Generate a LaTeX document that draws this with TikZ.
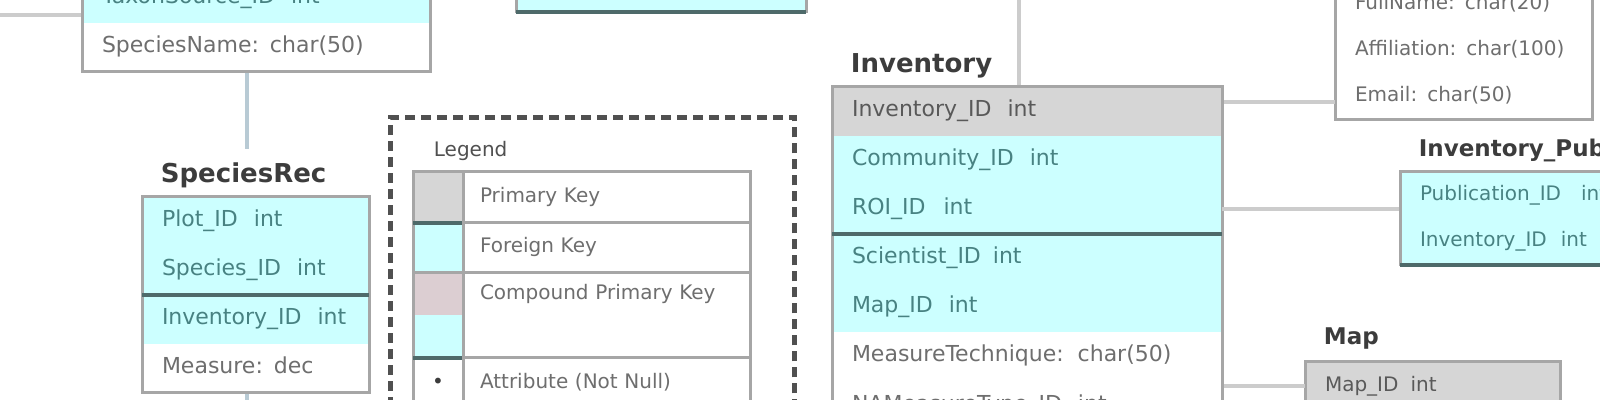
\documentclass[tikz,border=0pt]{standalone}
\usepackage{fontspec}
\setmainfont{DejaVu Sans}
\usepackage{tikz}
\usetikzlibrary{fit,positioning}
\definecolor{keycyan}{RGB}{204,255,255}
\definecolor{pkgray}{RGB}{214,214,214}
\definecolor{cpkpink}{RGB}{220,206,210}
\definecolor{rimgray}{RGB}{166,166,166}
\definecolor{pkline}{RGB}{78,106,106}
\definecolor{linkgray}{RGB}{204,204,204}
\definecolor{linkblue}{RGB}{184,202,212}
\definecolor{keytext}{RGB}{72,130,130}
\definecolor{plaintext}{RGB}{110,110,110}
\definecolor{headtext}{RGB}{60,60,60}
\definecolor{dashgray}{RGB}{80,80,80}

\begin{document}
\begin{tikzpicture}[x=0.5pt, y=-0.5pt]
    \tikzstyle{field}=[rectangle, anchor=north west, inner xsep=10pt, inner ysep=0pt, outer sep=0pt, minimum height=24.5pt, text height=8pt, text depth=2.5pt, align=left, font=\fontsize{11}{13}\selectfont, text=plaintext]
    \tikzstyle{fk}=[field, fill=keycyan, text=keytext]
    \tikzstyle{pk}=[field, fill=pkgray, text=headtext!85]
    \tikzstyle{attr}=[field, fill=white]
    \tikzstyle{small}=[font=\fontsize{10}{12}\selectfont, text height=7.5pt]
    \tikzstyle{short}=[minimum height=23pt]
    \tikzstyle{tablebox}=[rectangle, draw=rimgray, line width=1.5pt, inner sep=0pt]
    \tikzstyle{keysep}=[draw=pkline, line width=2pt]
    \tikzstyle{rowline}=[draw=rimgray, line width=1.5pt]
    \tikzstyle{tabletitle}=[inner xsep=10pt, inner ysep=0pt, text height=9.5pt, text depth=3pt, font=\bfseries\fontsize{13}{15}\selectfont, text=headtext]
    \tikzstyle{smalltitle}=[tabletitle, text height=8.5pt, text depth=2.5pt, font=\bfseries\fontsize{11.5}{13}\selectfont]
    \tikzstyle{link}=[draw=linkgray, line width=2pt]
    \tikzstyle{vlink}=[draw=linkblue, line width=2pt]
    \tikzstyle{legendbox}=[rectangle, draw=dashgray, line width=2.5pt, dash pattern=on 5pt off 3pt, inner sep=0pt]
    \tikzstyle{swatch}=[rectangle, anchor=north west, inner sep=0pt, outer sep=0pt, minimum width=25pt, minimum height=25.5pt, font=\fontsize{10}{12}\selectfont, text=headtext]
    \tikzstyle{legtext}=[rectangle, inner xsep=8.5pt, inner ysep=0pt, outer sep=0pt, minimum height=25.5pt, text width=126.5pt, text height=7.5pt, text depth=2.5pt, align=left, font=\fontsize{10}{12}\selectfont, text=plaintext]
    \tikzstyle{legtitle}=[inner sep=0pt, text height=7.5pt, text depth=2.5pt, font=\fontsize{10}{12}\selectfont, text=headtext!90]

    \useasboundingbox (0,0) rectangle (1600,400);
    \fill[white] (0,0) rectangle (1600,400);

      \node[fk, text width=154pt] (sp1) at (82,-26) {\mbox{TaxonSource\_ID\hspace{8pt}int}};
      \node[attr, text width=154pt] (sp2) [below=0pt of sp1] {\mbox{SpeciesName: char(50)}};
      \node[tablebox, fit=(sp1)(sp2)] (species) {};

      \node[fk, text width=125pt] (tc1) at (516,-37) {};
      \node[tablebox, fit=(tc1)] (toptable) {};
      \draw[keysep] (tc1.south west) -- (tc1.south east);

      \node[fk, text width=93.5pt] (sr1) at (142,197) {\mbox{Plot\_ID\hspace{8pt}int}};
      \node[fk, text width=93.5pt] (sr2) [below=0pt of sr1] {\mbox{Species\_ID\hspace{8pt}int}};
      \node[fk, text width=93.5pt] (sr3) [below=0pt of sr2] {\mbox{Inventory\_ID\hspace{8pt}int}};
      \node[attr, text width=93.5pt] (sr4) [below=0pt of sr3] {\mbox{Measure: dec}};
      \node[tablebox, fit=(sr1)(sr4)] (speciesrec) {};
      \draw[keysep] (sr2.south west) -- (sr2.south east);
      \node[tabletitle] (srtitle) [above right=3.5pt and 0pt of speciesrec.north west] {SpeciesRec};

      \node[legendbox, minimum width=202pt, minimum height=160pt, anchor=north west] (legend) at (388,115) {};
      \node[swatch, fill=pkgray] (sw1) at (413,172) {};
      \node[legtext] (lt1) [right=0pt of sw1] {Primary Key};
      \node[swatch, fill=keycyan, minimum height=25pt] (sw2) [below=0pt of sw1] {};
      \node[legtext, minimum height=25pt] (lt2) [right=0pt of sw2] {Foreign Key};
      \node[swatch, fill=cpkpink, minimum height=21.25pt] (sw3) [below=0pt of sw2] {};
      \node[legtext, minimum height=21.25pt] (lt3) [right=0pt of sw3] {Compound Primary Key};
      \node[swatch, fill=keycyan, minimum height=21.25pt] (sw4) [below=0pt of sw3] {};
      \node[legtext, minimum height=21.25pt] (lt4) [right=0pt of sw4] {};
      \node[swatch, fill=white, minimum height=25pt] (sw5) [below=0pt of sw4] {•};
      \node[legtext, minimum height=25pt] (lt5) [right=0pt of sw5] {Attribute (Not Null)};
      \node[tablebox, fit=(sw1)(lt5)] (legtable) {};
      \draw[keysep] (sw1.south west) -- (sw1.south east);
      \draw[rowline] (lt1.south west) -- (lt1.south east);
      \draw[rowline] (sw2.south west) -- (lt2.south east);
      \draw[keysep] (sw4.south west) -- (sw4.south east);
      \draw[rowline] (lt4.south west) -- (lt4.south east);
      \draw[rowline] (sw1.north east) -- (sw5.south east);
      \node[legtitle] (legtitle) [above right=4.5pt and 11pt of legtable.north west] {Legend};

      \node[pk, text width=175pt] (inv1) at (832,87) {\mbox{Inventory\_ID\hspace{8pt}int}};
      \node[fk, text width=175pt] (inv2) [below=0pt of inv1] {\mbox{Community\_ID\hspace{8pt}int}};
      \node[fk, text width=175pt] (inv3) [below=0pt of inv2] {\mbox{ROI\_ID\hspace{9pt}int}};
      \node[fk, text width=175pt] (inv4) [below=0pt of inv3] {\mbox{Scientist\_ID\hspace{6pt}int}};
      \node[fk, text width=175pt] (inv5) [below=0pt of inv4] {\mbox{Map\_ID\hspace{8pt}int}};
      \node[attr, text width=175pt] (inv6) [below=0pt of inv5] {\mbox{MeasureTechnique:\hspace{7pt}char(50)}};
      \node[attr, text width=175pt] (inv7) [below=0pt of inv6] {\mbox{NAMeasureType\_ID\hspace{8pt}int}};
      \node[tablebox, fit=(inv1)(inv7)] (inventory) {};
      \draw[keysep] (inv3.south west) -- (inv3.south east);
      \node[tabletitle] (invtitle) [above right=3.5pt and 0pt of inventory.north west] {Inventory};

      \node[attr, small, short, text width=108.5pt] (sc1) at (1335,-18) {\mbox{FullName: char(20)}};
      \node[attr, small, short, text width=108.5pt] (sc2) [below=0pt of sc1] {\mbox{Affiliation: char(100)}};
      \node[attr, small, short, text width=108.5pt] (sc3) [below=0pt of sc2] {\mbox{Email: char(50)}};
      \node[tablebox, fit=(sc1)(sc3)] (scientist) {};

      \node[fk, small, minimum height=23.25pt, text width=110pt] (pb1) at (1400,172) {\mbox{Publication\_ID\hspace{10pt}int}};
      \node[fk, small, minimum height=23.25pt, text width=110pt] (pb2) [below=0pt of pb1] {\mbox{Inventory\_ID\hspace{7pt}int}};
      \node[tablebox, fit=(pb1)(pb2)] (pub) {};
      \draw[keysep] (pb2.south west) -- (pb2.south east);
      \node[smalltitle] (pubtitle) [above right=4.5pt and 0pt of pub.north west] {Inventory\_Pub};

      \node[pk, small, text width=107.5pt] (mp1) at (1305,362) {\mbox{Map\_ID\hspace{6pt}int}};
      \node[tablebox, fit=(mp1)] (map) {};
      \node[smalltitle] (maptitle) [above right=5.5pt and 0pt of map.north west] {Map};

      \coordinate (westend) at (0,15);
      \coordinate (srfoot) at (247,410);
      \coordinate (invtop) at (1019,0);
      \draw[link] (westend) -- (westend -| species.west);
      \draw[vlink, shorten >=7pt] (species.south -| srfoot) -- (srtitle.north -| srfoot);
      \draw[vlink] (speciesrec.south -| srfoot) -- (srfoot);
      \draw[link] (invtop) -- (invtop |- inventory.north);
      \draw[link] ([yshift=-2.5pt]sc3.west) -- ([yshift=-2.5pt]sc3.west -| inventory.east);
      \draw[link] (inv3.east) -- (inv3.east -| pub.west);
      \draw[link] (mp1.west) -- (mp1.west -| inventory.east);
\end{tikzpicture}
\end{document}
